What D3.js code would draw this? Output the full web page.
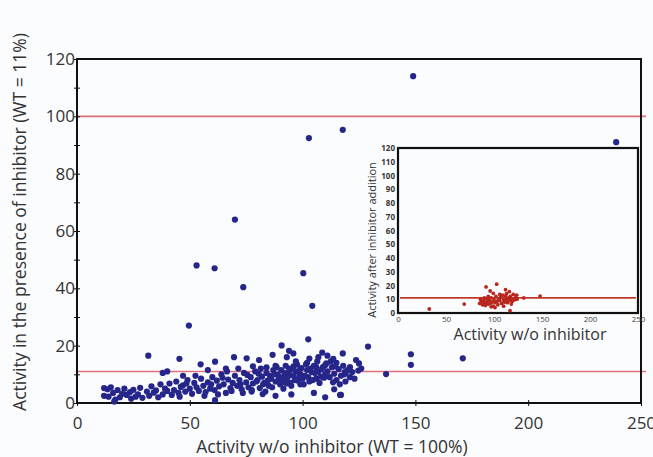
<!DOCTYPE html>
<html>
<head>
<meta charset="utf-8">
<script src="https://cdn.jsdelivr.net/npm/d3@7"></script>
<style>
body { margin: 0; background: #fbfcfe; }
svg { display: block; font-family: "Open Sans", sans-serif; }
</style>
</head>
<body>
<script>
// main scatter: [activity w/o inhibitor, activity with inhibitor]
var mainPoints = [
    [149,114],[102.8,92.4],[117.8,95.3],[70,64],[53,48],[61,47],[100.3,45.3],[73.7,40.4],
    [104.3,33.9],[49.6,27],[102.5,22.2],[129,19.7],[31.6,16.5],[45.4,15.4],[148,17],[148,13.3],
    [171,15.6],[137,10.1],[239,91],
    [90.7,20.1],[94,18.2],[95.9,17.3],[86.7,16.8],[69.6,16],[75.2,15.6],[80.7,15],[61.2,14.4],
    [54.8,13.5],[108.7,17.6],[117.8,17.3],[113.6,15.4],[123.7,15],[124.7,11.3],[119,10.4],
    [125,13.8],[118.8,10.9],[102,14],[106,12.5],[110,13.2],[97,14.5],[99,12],[88,13],[84,12.4],
    [78,12.8],[66,12],[58,11.5],[40,11],[38,10.5],[47,9.5],[93,16],[115,14],[121,12.5],[111,16.5],
    [117,2.8],[114,4.8],[61.2,1],[82.3,3.1],[77.4,4],[116.6,2.8],[110,2],[105,3.5],[95,3],[88,2.5],
    [12,5.2],[13.5,4.8],[12,2.5],[14,2.2],[16,3.5],[17,1.2],[18,4.5],[19,2],[15,5.5],[20,3.2],[16.5,0.5],
    [21,5],[22,2.8],[23.5,3.8],[25,4.6],[26,2.2],[27,3],[28,5.3],[29,1.8],[24,1.5],
    [31,4],[32,2.5],[33,5.8],[34,3.6],[35,4.4],[36,2],[37,6.5],[38,3],[39,5],[40,4.2],
    [41,6.8],[42,2.8],[43,4.5],[44,7.5],[45,3.5],[46,5.6],[47,6.2],[48,4],[49,8],[50,5],[45.5,2.2],[48.5,6.8],
    [51,3.2],[52,7],[53,5.5],[54,4.2],[55,8.5],[56,6],[57,3.8],[58,7.2],[59,5],[60,9],[52.5,9.5],[56.5,2.5],[59.5,6.5],
    [61,4.5],[62,7.8],[63,5.8],[64,10],[65,6.5],[66,3.5],[67,8.2],[68,5.2],[69,7],[70,9.5],[62.5,3],[66.5,11],[68.5,4.2],[64.5,8.8],
    [71,6],[72,8],[73,4.8],[74,10.5],[75,7.2],[76,5.5],[77,9],[78,6.8],[79,11],[80,8],[71.5,12],[73.5,3.5],
    [75.5,9.8],[77.5,4.5],[79.5,7.5],[72.5,6.5],
    [81,5.2],[82,9.2],[83,7],[84,10.5],[85,6],[86,8.5],[87,11.5],[88,7.5],[89,9.8],[90,6.5],[81.5,12],[83.5,4],
    [85.5,9.5],[86.5,5.5],[88.5,12.5],[89.5,8.2],[84.5,7.8],[87.5,10],[82.5,6.5],[80.5,10.2],
    [91,7.2],[92,10.5],[93,8.5],[94,12],[95,6],[96,9.5],[97,11],[98,7.8],[99,10],[100,8.5],[90.5,11.5],[91.5,5],
    [92.5,13],[93.5,9.2],[94.5,7],[95.5,11.8],[96.5,8],[97.5,13.5],[98.5,9],[99.5,12.2],[90,9],[93,6.8],
    [96,12.8],[99,6.5],[94,10.2],[91,8.8],
    [101,9.5],[102,11.5],[103,7.5],[104,10.8],[105,13],[106,8.5],[107,11],[108,9.2],[109,12.5],[110,10],
    [100.5,6.5],[101.5,13.5],[102.5,9],[103.5,12],[104.5,8],[105.5,10.5],[106.5,14.5],[107.5,7],[108.5,11.8],
    [109.5,8.8],[110.5,13.8],[103,15.5],[107,16],
    [111,11],[112,9],[113,12.5],[114,10.2],[115,8],[116,11.8],[117,9.5],[118,13],[119,7.5],[120,11.5],
    [112.5,14.5],[114.5,12.8],[116.5,6.5],[118.5,10],[113.5,7.2],
    [121,9],[122,10.8],[123,8.5],[126,12]
];

// inset scatter
var insetPoints = [
    [32.6,2.9],[69,6.5],[91.7,19],[102.8,21],[148,12.3],[116.7,1.7],[116,15.5],[123.6,13],[99.3,14.3],
    [131,11],[96,16],[112,17],
    [85,7],[87,8.5],[88,6],[89,9],[90,7.5],[91,5.5],[92,8],[93,10],[94,6.5],[95,9],[96,7],[97,11],[98,8],
    [99,5],[100,9.5],[101,7.5],[102,12],[103,8.5],[104,6],[105,10],[106,9],[107,11.5],[108,7],[109,13],
    [110,9.5],[111,8],[112,12.5],[113,10],[114,7.5],[115,11],[116,9],[117,12],[118,10.5],[119,8.5],
    [120,13.5],[121,9.5],[122,11],[124,10],[86,10],[94,12],[101,4],[106,13.5],[113,14],[118,6.5],
    [90,11],[97,4.5],[110,5]
];

var mainThresholds = [100, 11];
var insetThreshold = 11;
var xTicks = [0, 50, 100, 150, 200, 250];
var yTicks = [0, 10, 20, 30, 40, 50, 60, 70, 80, 90, 100, 110, 120];
var insetYTicks = [0, 10, 20, 30, 40, 50, 60, 70, 80, 90, 100, 110, 120];

var margin = {top: 59, right: 12, bottom: 54, left: 77},
    width = 653 - margin.left - margin.right,
    height = 457 - margin.top - margin.bottom;

var svg = d3.select("body").append("svg")
    .attr("width", 653)
    .attr("height", 457);

var g = svg.append("g")
    .attr("transform", "translate(" + margin.left + "," + margin.top + ")");

var x = d3.scaleLinear().domain([0, 250]).range([0, width]);
var y = d3.scaleLinear().domain([0, 120]).range([height, 0]);

// threshold lines
g.selectAll(".thr")
    .data(mainThresholds)
    .enter().append("line")
    .attr("x1", 0).attr("x2", width + 5)
    .attr("y1", function(d) { return y(d); })
    .attr("y2", function(d) { return y(d); })
    .attr("stroke", "#e0707c")
    .attr("stroke-width", 1.6);

// axes
var xAxis = g.append("g")
    .attr("transform", "translate(0," + height + ")")
    .call(d3.axisBottom(x).tickValues(xTicks).tickSize(3));
xAxis.select(".domain").remove();
xAxis.selectAll("line").attr("y1", -3).attr("stroke", "#111");
xAxis.selectAll("text").attr("y", 14).attr("font-size", 17).attr("fill", "#333")
    .attr("font-family", "Open Sans");

var yAxis = g.append("g")
    .call(d3.axisLeft(y).tickValues(yTicks).tickSize(3)
        .tickFormat(function(d) { return d % 20 === 0 ? d : ""; }));
yAxis.select(".domain").remove();
yAxis.selectAll("line").attr("x1", 3).attr("stroke", "#111");
yAxis.selectAll("text").attr("x", -2).attr("font-size", 17).attr("fill", "#333")
    .attr("font-family", "Open Sans");

g.append("rect")
    .attr("width", width).attr("height", height)
    .attr("fill", "none").attr("stroke", "#111").attr("stroke-width", 2);

// inset
var inset = {left: 398, top: 148, right: 638, bottom: 313};
var ix = d3.scaleLinear().domain([0, 250]).range([inset.left, inset.right]);
var iy = d3.scaleLinear().domain([0, 120]).range([inset.bottom, inset.top]);

svg.append("rect")
    .attr("x", inset.left).attr("y", inset.top)
    .attr("width", inset.right - inset.left).attr("height", inset.bottom - inset.top)
    .attr("fill", "#fbfcfe").attr("stroke", "#111").attr("stroke-width", 2.2);

svg.append("line")
    .attr("x1", ix(0) + 2).attr("x2", ix(250) - 2)
    .attr("y1", iy(insetThreshold)).attr("y2", iy(insetThreshold))
    .attr("stroke", "#c0392b").attr("stroke-width", 1.6);

var ixAxis = svg.append("g")
    .attr("transform", "translate(0," + inset.bottom + ")")
    .call(d3.axisBottom(ix).tickValues(xTicks).tickSize(0));
ixAxis.select(".domain").remove();
ixAxis.selectAll("text").attr("y", 3).attr("font-size", 8).attr("fill", "#444")
    .attr("font-family", "Open Sans");

var iyAxis = svg.append("g")
    .attr("transform", "translate(" + inset.left + ",0)")
    .call(d3.axisLeft(iy).tickValues(insetYTicks).tickSize(0));
iyAxis.select(".domain").remove();
iyAxis.selectAll("text").attr("x", -3).attr("font-size", 8).attr("fill", "#333")
    .attr("font-weight", "bold").attr("font-family", "Open Sans");

svg.append("g").selectAll("circle")
    .data(insetPoints)
    .enter().append("circle")
    .attr("cx", function(d) { return ix(d[0]); })
    .attr("cy", function(d) { return iy(d[1]); })
    .attr("r", 1.9)
    .attr("fill", "#b8261e");

// main points drawn on top
g.selectAll(".pt")
    .data(mainPoints)
    .enter().append("circle")
    .attr("cx", function(d) { return x(d[0]); })
    .attr("cy", function(d) { return y(d[1]); })
    .attr("r", 3.1)
    .attr("fill", "#26268a");

// titles
svg.append("text")
    .attr("x", 332).attr("y", 453)
    .attr("text-anchor", "middle")
    .attr("font-size", 17.5).attr("fill", "#333")
    .text("Activity w/o inhibitor (WT = 100%)");

svg.append("text")
    .attr("transform", "translate(26,222) rotate(-90)")
    .attr("text-anchor", "middle")
    .attr("font-size", 17.5).attr("fill", "#333")
    .text("Activity in the presence of inhibitor (WT = 11%)");

svg.append("text")
    .attr("transform", "translate(376,240) rotate(-90)")
    .attr("text-anchor", "middle")
    .attr("font-size", 11).attr("fill", "#333")
    .text("Activity after inhibitor addition");

svg.append("text")
    .attr("x", 530).attr("y", 340)
    .attr("text-anchor", "middle")
    .attr("font-size", 16).attr("fill", "#333")
    .text("Activity w/o inhibitor");
</script>
</body>
</html>
